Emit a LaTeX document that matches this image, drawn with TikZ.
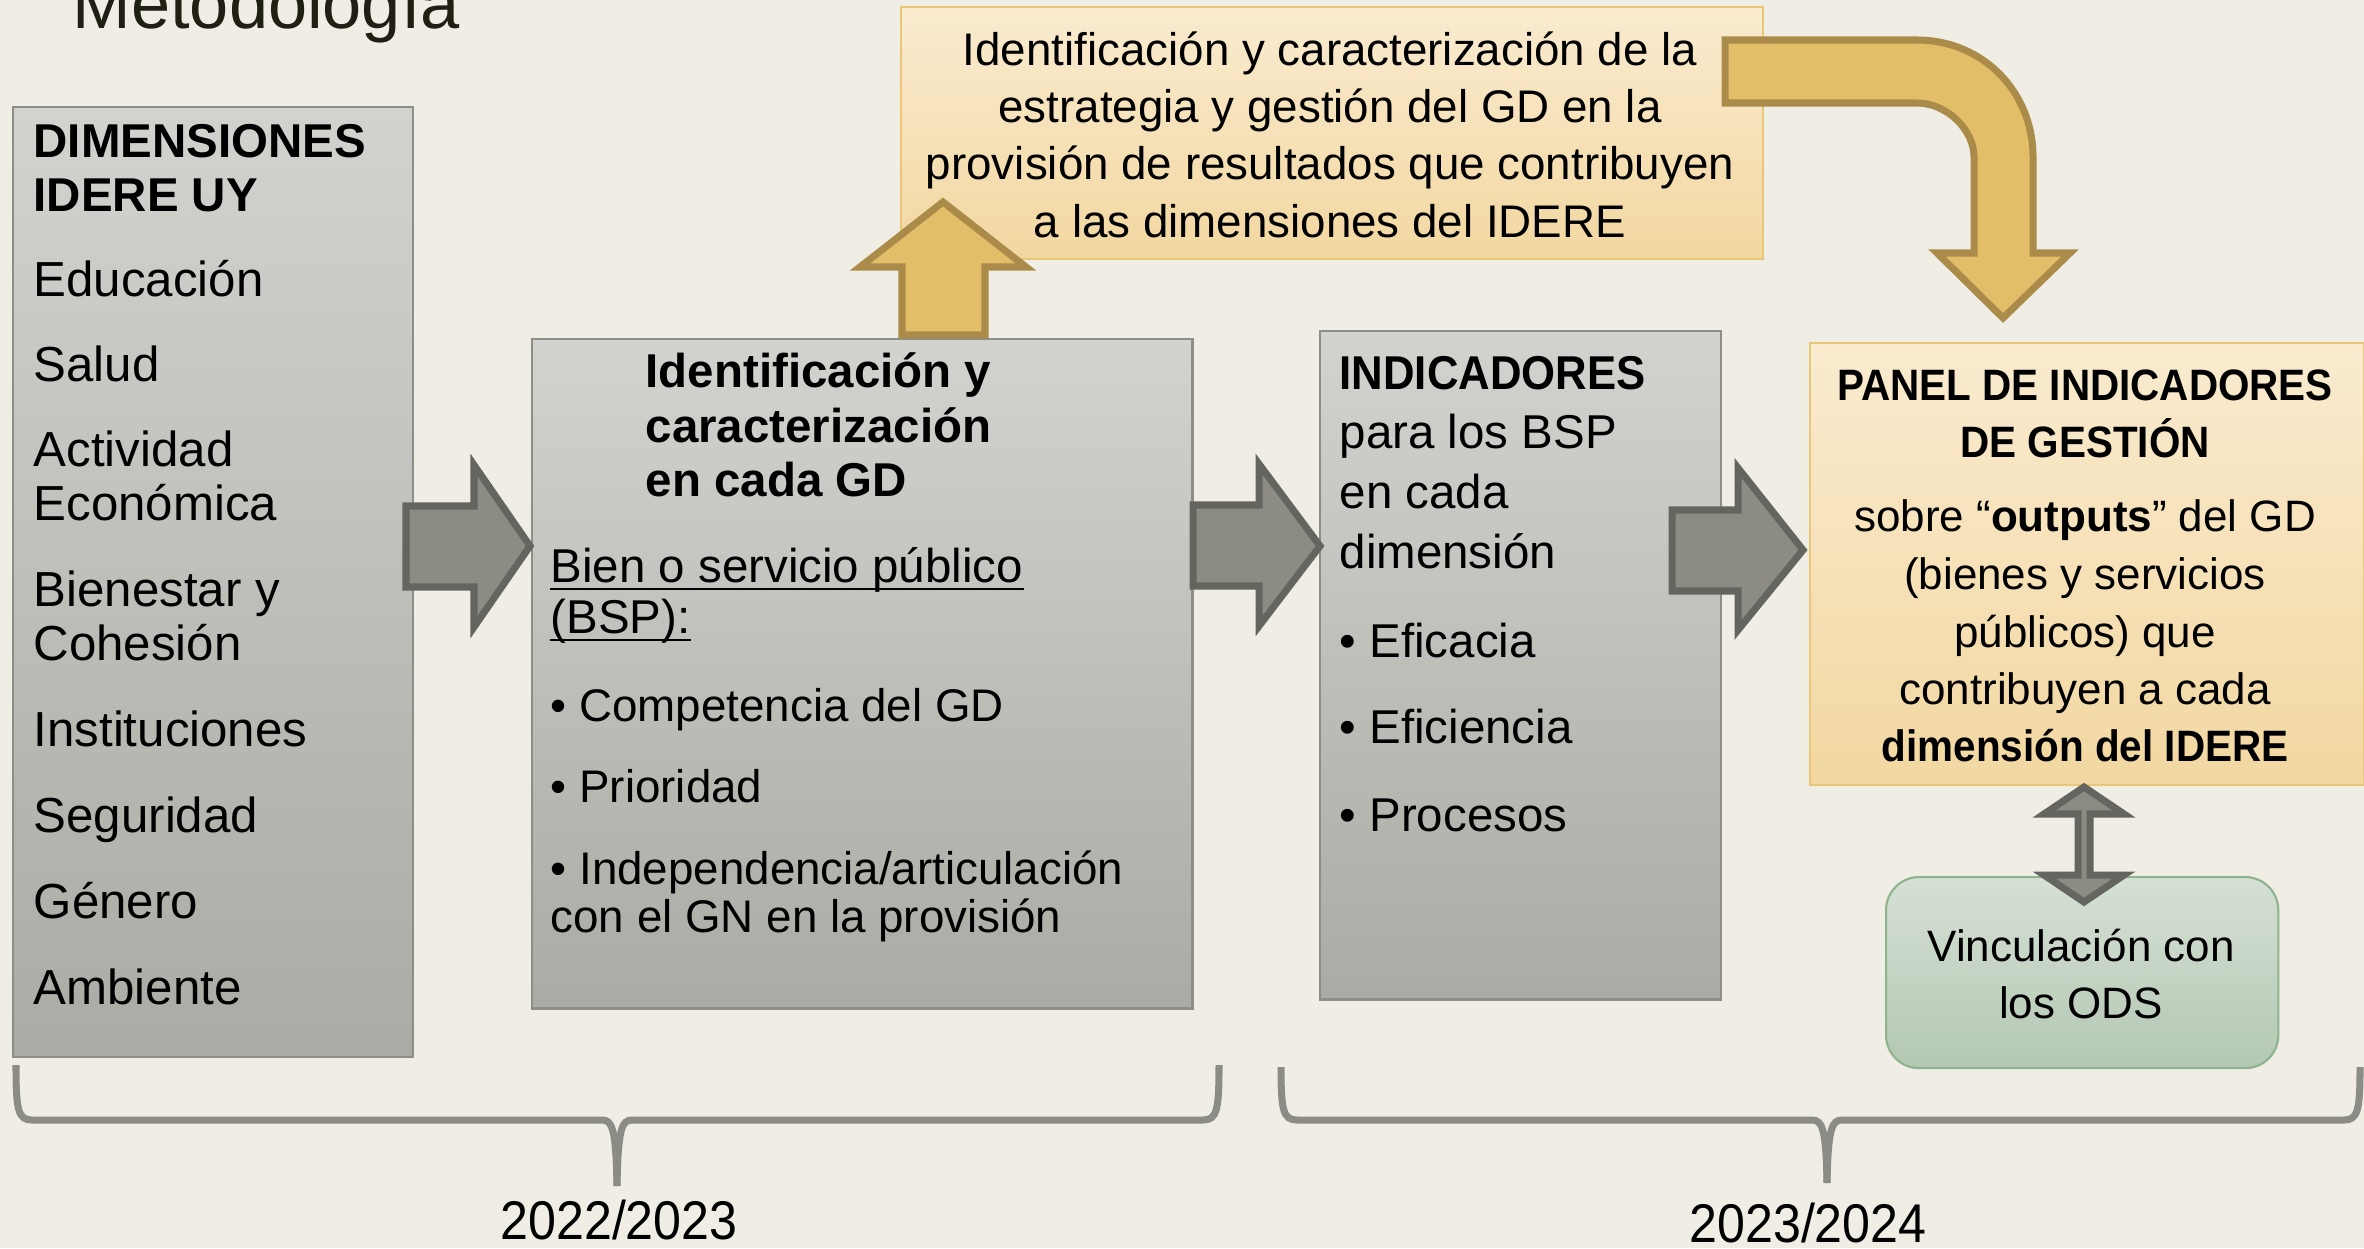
\documentclass[tikz,border=0pt]{standalone}
\usepackage{fontspec}
\setmainfont{Liberation Sans}
\newfontfamily\condfont[FakeStretch=0.92]{Liberation Sans}
\definecolor{bgcream}{HTML}{EFEDE4}
\definecolor{titlecol}{HTML}{1F1F14}
\definecolor{boxtop}{HTML}{D2D2CF}
\definecolor{boxbot}{HTML}{ABABA5}
\definecolor{boxline}{HTML}{8E8E88}
\definecolor{ortop}{HTML}{FAEBD0}
\definecolor{orbot}{HTML}{F2D7A0}
\definecolor{orline}{HTML}{EAC777}
\definecolor{grtop}{HTML}{D6E0D5}
\definecolor{grbot}{HTML}{B3C8B2}
\definecolor{grline}{HTML}{8FB38F}
\definecolor{arrfill}{HTML}{8C8C85}
\definecolor{arrline}{HTML}{65655F}
\definecolor{orfill}{HTML}{E3BE68}
\definecolor{orarrline}{HTML}{AB8B4A}
\definecolor{bracecol}{HTML}{8C8C86}
\tikzset{
  graybox/.style={draw=boxline, line width=0.6pt, top color=boxtop, bottom color=boxbot, anchor=north west, inner sep=0pt},
  orbox/.style={draw=orline, line width=0.6pt, top color=ortop, bottom color=orbot, anchor=north west, inner sep=0pt},
  grbox/.style={draw=grline, line width=0.6pt, top color=grtop, bottom color=grbot, anchor=north west, inner sep=0pt, rounded corners=0.33cm},
  txt/.style={anchor=base west, inner sep=0pt, font=\fontsize{13.5}{16}\selectfont},
  ctxt/.style={anchor=base, inner sep=0pt, font=\fontsize{13}{16}\selectfont},
  ptxt/.style={anchor=base, inner sep=0pt, font=\fontsize{12.5}{15}\selectfont},
  yrtxt/.style={anchor=base, inner sep=0pt, font=\fontsize{15.5}{18}\selectfont\condfont},
  uline/.style={line width=0.8pt, black},
  grayarrow/.style={fill=arrfill, draw=arrline, line width=2pt, line join=miter},
  orarrow/.style={fill=orfill, draw=orarrline, line width=2pt, line join=miter},
  brace/.style={draw=bracecol, line width=2pt}
}
\begin{document}
\begin{tikzpicture}[x=0.01cm, y=-0.01cm]
\useasboundingbox (0,0) rectangle (2364,1248);
\fill[bgcream] (0,0) rectangle (2364,1248);
\node[anchor=base west, inner sep=0pt, text=titlecol, font=\fontsize{20}{24}\selectfont] (title) at (72,28) {Metodología};
\node[graybox, minimum width=4.00cm, minimum height=9.49cm] (dim) at (12,106) {};
\node[graybox, minimum width=6.60cm, minimum height=6.69cm] (bsp) at (531,338) {};
\node[graybox, minimum width=4.01cm, minimum height=6.68cm] (ind) at (1319,330) {};
\node[orbox, minimum width=5.54cm, minimum height=4.42cm] (panel) at (1809,342) {};
\node[orbox, minimum width=8.61cm, minimum height=2.52cm] (estr) at (900,6) {};
\node[grbox, minimum width=3.92cm, minimum height=1.91cm] (ods) at (1885,876) {};
\node[txt, font=\fontsize{13.5}{16}\selectfont\bfseries] (dim-t1) at (33,157) {DIMENSIONES};
\node[txt, font=\fontsize{13.5}{16}\selectfont\bfseries] (dim-t2) at (33,211) {IDERE UY};
\foreach \y/\t [count=\i] in {296/Educación,381/Salud,466/Actividad,520/Económica,606/Bienestar y,660/Cohesión,746/Instituciones,832/Seguridad,918/Género,1004/Ambiente}
  \node[txt, font=\fontsize{14}{16}\selectfont] (dim-\i) at (33,\y) {\t};
\node[txt, font=\fontsize{13.5}{16}\selectfont\bfseries] (bsp-t1) at (645,387) {Identificación y};
\node[txt, font=\fontsize{13.5}{16}\selectfont\bfseries] (bsp-t2) at (645,442) {caracterización};
\node[txt, font=\fontsize{13.5}{16}\selectfont\bfseries] (bsp-t3) at (645,496) {en cada GD};
\node[txt] (bsp-u1) at (550,582) {Bien o servicio público};
\node[txt] (bsp-u2) at (550,633) {(BSP):};
\draw[uline] ([yshift=-2pt]bsp-u1.base west) -- ([yshift=-2pt]bsp-u1.base east);
\draw[uline] ([yshift=-2pt]bsp-u2.base west) -- ([yshift=-2pt]bsp-u2.base east);
\foreach \y/\t [count=\i] in {721/{• Competencia del GD},802/{• Prioridad},884/{• Independencia/articulación},932/{con el GN en la provisión}}
  \node[txt, font=\fontsize{13}{16}\selectfont] (bsp-\i) at (550,\y) {\t};
\node[txt, font=\fontsize{13.5}{16}\selectfont\condfont\bfseries] (ind-t1) at (1339,389) {INDICADORES};
\foreach \y/\t [count=\i] in {448/para los BSP,508/en cada,568/dimensión,657/• Eficacia,743/• Eficiencia,831/• Procesos}
  \node[txt] (ind-\i) at (1339,\y) {\t};
\foreach \y/\t [count=\i] in {65/Identificación y caracterización de la,122/estrategia y gestión del GD en la,179/provisión de resultados que contribuyen,237/a las dimensiones del IDERE}
  \node[ctxt] (estr-\i) at (1330,\y) {\t};
\node[ptxt, font=\fontsize{12.5}{15}\selectfont\condfont\bfseries] (panel-t1) at (2085,400) {PANEL DE INDICADORES};
\node[ptxt, font=\fontsize{12.5}{15}\selectfont\condfont\bfseries] (panel-t2) at (2085,457) {DE GESTIÓN};
\node[ptxt] (panel-1) at (2085,531) {sobre “\textbf{outputs}” del GD};
\node[ptxt] (panel-2) at (2085,589) {(bienes y servicios};
\node[ptxt] (panel-3) at (2085,647) {públicos) que};
\node[ptxt] (panel-4) at (2085,704) {contribuyen a cada};
\node[ptxt, font=\fontsize{12.5}{15}\selectfont\condfont\bfseries] (panel-5) at (2085,761) {dimensión del IDERE};
\node[ptxt] (ods-1) at (2081,961) {Vinculación con};
\node[ptxt] (ods-2) at (2081,1018) {los ODS};
\draw[grayarrow] (406,506) -- (474,506) -- (474,465) -- (530,546) -- (474,627) -- (474,587) -- (406,587) -- cycle;
\draw[grayarrow] (1193,505) -- (1259,505) -- (1259,464) -- (1320,546) -- (1259,626) -- (1259,586) -- (1193,586) -- cycle;
\draw[grayarrow] (1672,510) -- (1738,510) -- (1738,468) -- (1803,550) -- (1738,630) -- (1738,591) -- (1672,591) -- cycle;
\draw[orarrow] (902,335) -- (902,267) -- (860,267) -- (943,202) -- (1026,267) -- (985,267) -- (985,335) -- cycle;
\draw[orarrow] (1725,40) -- (1917,40) .. controls (1982,40) and (2033,91) .. (2033,157) -- (2033,253) -- (2070,253) -- (2003,318) -- (1937,253) -- (1974,253) -- (1974,157) .. controls (1974,130) and (1947,103) .. (1917,103) -- (1725,103) -- cycle;
\draw[grayarrow] (2084,787) -- (2124,814) -- (2090,814) -- (2090,875) -- (2124,875) -- (2084,902) -- (2044,875) -- (2078,875) -- (2078,814) -- (2044,814) -- cycle;
\draw[brace] (16,1065) .. controls (16,1110) and (18,1120) .. (32,1120) -- (602,1120) .. controls (612,1120) and (616,1128) .. (617,1186);
\draw[brace] (617,1186) .. controls (618,1128) and (622,1120) .. (632,1120) -- (1203,1120) .. controls (1217,1120) and (1219,1110) .. (1219,1065);
\draw[brace] (1281,1067) .. controls (1281,1110) and (1283,1120) .. (1297,1120) -- (1812,1120) .. controls (1822,1120) and (1826,1128) .. (1827,1183);
\draw[brace] (1827,1183) .. controls (1828,1128) and (1832,1120) .. (1842,1120) -- (2344,1120) .. controls (2358,1120) and (2360,1110) .. (2360,1067);
\node[yrtxt] (yr1) at (619,1239) {2022/2023};
\node[yrtxt] (yr2) at (1808,1242) {2023/2024};
\end{tikzpicture}
\end{document}
